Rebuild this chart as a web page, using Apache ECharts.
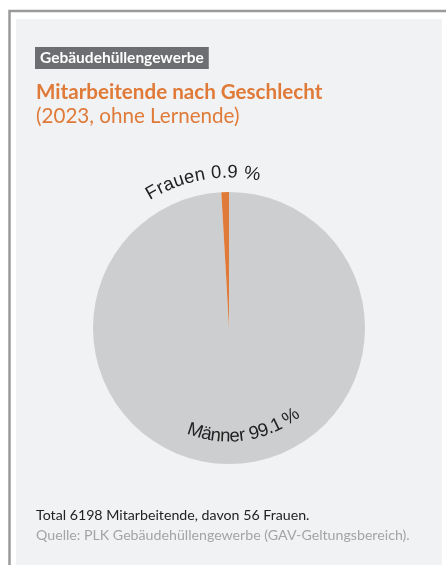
<!DOCTYPE html>
<html>
<head>
<meta charset="utf-8">
<script src="https://cdn.jsdelivr.net/npm/echarts@6/dist/echarts.min.js"></script>
<style>
html, body { margin: 0; padding: 0; background: #fff; }
#chart { width: 446px; height: 565px; }
</style>
</head>
<body>
<div id="chart"></div>
<script>
// Daten
const categories = ['Männer', 'Frauen'];
const shares = [99.1, 0.9];
const colors = ['#cdcecf', '#e07a38'];
const tagText = 'Gebäudehüllengewerbe';
const titleText = 'Mitarbeitende nach Geschlecht';
const subtitleText = '(2023, ohne Lernende)';
const noteText = 'Total 6198 Mitarbeitende, davon 56 Frauen.';
const sourceText = 'Quelle: PLK Gebäudehüllengewerbe (GAV-Geltungsbereich).';

const cx = 229, cy = 328, R = 136;
const labelFont = '18.5px "Liberation Sans", Arial, sans-serif';
const headFont = '"Lato", "Open Sans", sans-serif';

const ctx = document.createElement('canvas').getContext('2d');
ctx.font = labelFont;

// Beschriftung entlang eines Kreisbogens, Zeichen für Zeichen
function arcText(str, r, centerDeg, outside) {
  const widths = [...str].map(ch => ctx.measureText(ch).width);
  const total = widths.reduce((a, b) => a + b, 0);
  const start = centerDeg * Math.PI / 180 - total / r / 2;
  let acc = 0;
  const out = [];
  [...str].forEach((ch, i) => {
    const a = start + (acc + widths[i] / 2) / r;
    acc += widths[i];
    if (ch === ' ') return;
    let x, y, rot;
    if (outside) {
      x = cx + r * Math.sin(a); y = cy - r * Math.cos(a); rot = -a;
    } else {
      x = cx + r * Math.sin(a); y = cy + r * Math.cos(a); rot = a;
    }
    out.push({
      type: 'text', x: x, y: y, rotation: rot, z: 10,
      style: {
        text: ch, font: labelFont, fill: '#222',
        textAlign: 'center', textVerticalAlign: 'bottom',
        align: 'center', verticalAlign: 'bottom'
      }
    });
  });
  return out;
}

const labelFor = (i) => categories[i] + ' ' + String(shares[i]) + ' %';

const chart = echarts.init(document.getElementById('chart'));
ctx.font = '700 15.5px ' + headFont;
const tagW = ctx.measureText(tagText).width + 10;
ctx.font = labelFont;

const option = {
  animation: false,
  graphic: [
    // Rahmen + Fläche
    { type: 'rect', shape: { x: 9.5, y: 11, width: 450, height: 560 },
      style: { fill: '#fff', stroke: '#9a9a9c', lineWidth: 2.5 }, z: 0 },
    { type: 'rect', shape: { x: 16, y: 19, width: 426, height: 560 },
      style: { fill: '#f1f2f4' }, z: 1 },
    { type: 'rect', shape: { x: 35, y: 47, width: tagW, height: 22 },
      style: { fill: '#6d6e71' }, z: 2 },
    { type: 'text', x: 40, y: 58, z: 3,
      style: { text: tagText, font: '700 15.5px ' + headFont, fill: '#fff',
        textVerticalAlign: 'middle', verticalAlign: 'middle' } },
    { type: 'text', x: 36, y: 92, z: 3,
      style: { text: titleText, font: '700 20.6px ' + headFont, fill: '#e07a38',
        textVerticalAlign: 'middle', verticalAlign: 'middle' } },
    { type: 'text', x: 36, y: 116, z: 3,
      style: { text: subtitleText, font: '400 20.6px ' + headFont, fill: '#e07a38',
        textVerticalAlign: 'middle', verticalAlign: 'middle' } },
    { type: 'text', x: 36, y: 515, z: 3,
      style: { text: noteText, font: '400 14.2px ' + headFont, fill: '#222',
        textVerticalAlign: 'middle', verticalAlign: 'middle' } },
    { type: 'text', x: 36, y: 535, z: 3,
      style: { text: sourceText, font: '400 14.2px ' + headFont, fill: '#a3a4a6',
        textVerticalAlign: 'middle', verticalAlign: 'middle' } }
  ].concat(arcText(labelFor(1), 146, -10, true))
   .concat(arcText(labelFor(0), 118, 8.5, false)),
  series: [{
    type: 'pie',
    center: [cx, cy],
    radius: R,
    startAngle: 90,
    clockwise: true,
    z: 5,
    label: { show: false },
    labelLine: { show: false },
    emphasis: { disabled: true },
    itemStyle: { borderWidth: 0 },
    data: categories.map((c, i) => ({ name: c, value: shares[i], itemStyle: { color: colors[i] } }))
  }]
};
chart.setOption(option);
</script>
</body>
</html>
